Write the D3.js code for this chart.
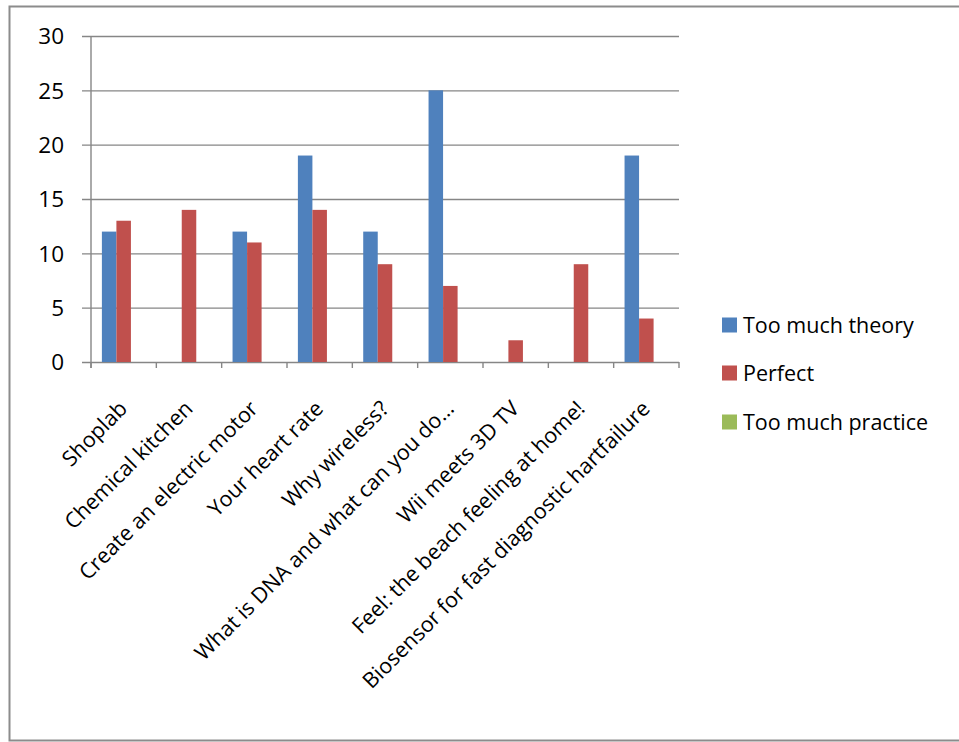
<!DOCTYPE html>
<html>
<head>
<meta charset="utf-8">
<script src="https://cdn.jsdelivr.net/npm/d3@7"></script>
<style>
  html, body { margin: 0; padding: 0; background: #fff; }
  svg { display: block; }
  text { font-family: "Open Sans", Lato, sans-serif; fill: #000; }
</style>
</head>
<body>
<svg id="chart" width="959" height="742"></svg>
<script>
// Survey results per workshop
const categories = [
  "Shoplab",
  "Chemical kitchen",
  "Create an electric motor",
  "Your heart rate",
  "Why wireless?",
  "What is DNA and what can you do\u2026",
  "Wii meets 3D TV",
  "Feel: the beach feeling at home!",
  "Biosensor for fast diagnostic hartfailure"
];
const seriesNames = ["Too much theory", "Perfect", "Too much practice"];
const tooMuchTheory = [12, 0, 12, 19, 12, 25, 0, 0, 19];
const perfect = [13, 14, 11, 14, 9, 7, 2, 9, 4];
const tooMuchPractice = [0, 0, 0, 0, 0, 0, 0, 0, 0];
const yTicks = [0, 5, 10, 15, 20, 25, 30];
const colors = ["#4F81BD", "#C0504D", "#9BBB59"];

const seriesValues = [tooMuchTheory, perfect, tooMuchPractice];

const svg = d3.select("#chart");
const axisGrey = "#868686";

// outer chart frame (right edge runs past the canvas)
svg.append("rect")
  .attr("x", 9.5).attr("y", 6.5)
  .attr("width", 965).attr("height", 734)
  .attr("fill", "#fff")
  .attr("stroke", "#8c8c8c")
  .attr("stroke-width", 2);

const plot = { left: 91, right: 679, top: 36, bottom: 362 };

const x = d3.scaleBand()
  .domain(categories)
  .range([plot.left, plot.right])
  .paddingInner(0).paddingOuter(0);

const bandW = x.bandwidth();
const barW = bandW / 4.5;          // three bars plus a 150% gap
const groupOffset = (bandW - 3 * barW) / 2;

const y = d3.scaleLinear().domain([0, 30]).range([plot.bottom, plot.top]);

// horizontal gridlines + value labels
const yAxis = d3.axisLeft(y)
  .tickValues(yTicks)
  .tickSize(-(plot.right - plot.left))
  .tickPadding(0)
  .tickFormat(d3.format("d"));

const gy = svg.append("g")
  .attr("transform", `translate(${plot.left},0)`)
  .call(yAxis);
gy.select(".domain").remove();
gy.selectAll(".tick line")
  .attr("x1", -9)
  .attr("stroke", axisGrey)
  .attr("stroke-width", 1.4);
gy.selectAll(".tick text")
  .attr("x", -27)
  .attr("dy", "0.35em")
  .style("font-size", "22.5px")
  .style("font-family", "'Open Sans', sans-serif")
  .attr("fill", "#000");

// vertical axis line
svg.append("line")
  .attr("x1", plot.left).attr("x2", plot.left)
  .attr("y1", plot.top).attr("y2", plot.bottom + 6)
  .attr("stroke", axisGrey).attr("stroke-width", 1.4);

// category ticks along the baseline
const boundaries = categories.map(c => x(c)).concat([plot.right]);
svg.append("g").selectAll("line")
  .data(boundaries)
  .join("line")
  .attr("x1", d => d).attr("x2", d => d)
  .attr("y1", plot.bottom).attr("y2", plot.bottom + 6)
  .attr("stroke", axisGrey).attr("stroke-width", 1.4);

// bars
seriesValues.forEach((vals, si) => {
  svg.append("g")
    .selectAll("rect")
    .data(vals.map((v, i) => ({ cat: categories[i], v })))
    .join("rect")
    .attr("x", d => x(d.cat) + groupOffset + si * barW)
    .attr("y", d => y(d.v))
    .attr("width", barW)
    .attr("height", d => y(0) - y(d.v))
    .attr("fill", colors[si]);
});

// rotated category labels
svg.append("g").selectAll("text")
  .data(categories)
  .join("text")
  .attr("transform", d => `translate(${x(d) + bandW / 2 + 5},${plot.bottom + 48}) rotate(-45)`)
  .attr("text-anchor", "end")
  .style("font-size", "21.5px")
  .text(d => d);

// legend
const legend = svg.append("g");
const legendY = [325, 373, 422];
seriesNames.forEach((name, i) => {
  legend.append("rect")
    .attr("x", 722).attr("y", legendY[i] - 7.5)
    .attr("width", 15).attr("height", 15)
    .attr("fill", colors[i]);
  legend.append("text")
    .attr("x", 743).attr("y", legendY[i] + 8)
    .style("font-size", "21.5px")
    .text(name);
});
</script>
</body>
</html>
